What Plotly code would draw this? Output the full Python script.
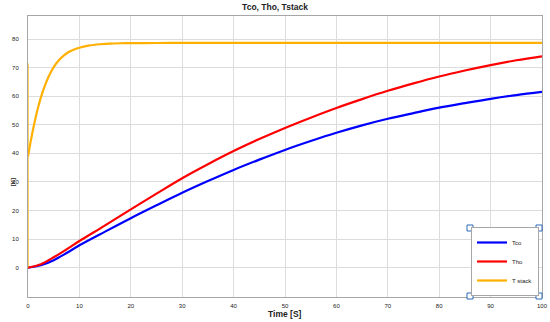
import plotly.graph_objects as go

# ---- data ----
time_tc = [0, 2.5, 5, 7.5, 10, 15, 20, 25, 30, 35, 40, 45, 50, 55, 60, 65, 70, 75, 80, 85, 90, 95, 100]
tco = [0, 0.8, 2.6, 5.1, 7.8, 12.6, 17.3, 21.8, 26.2, 30.3, 34.2, 37.8, 41.2, 44.3, 47.2, 49.8,
       52.1, 54.1, 56.0, 57.6, 59.1, 60.4, 61.5]
tho = [0, 1.2, 3.6, 6.4, 9.3, 14.8, 20.4, 25.9, 31.3, 36.2, 40.8, 45.0, 48.9, 52.5, 55.9, 59.0,
       61.9, 64.5, 66.9, 69.0, 70.9, 72.6, 74.0]

time_stack = [0, 0.5, 1, 1.5, 2, 2.5, 3, 4, 5, 6, 7, 8, 9, 10, 12, 14, 16, 18, 20, 25, 30, 100]
tstack = [39, 44, 48.5, 52.7, 56.3, 59.5, 62.3, 66.8, 70.2, 72.6, 74.3, 75.6, 76.4, 77.0, 77.8,
          78.2, 78.45, 78.55, 78.6, 78.65, 78.7, 78.7]
spike_t = [0, 0]
spike_v = [0, 71.5]

x_ticks = list(range(0, 101, 10))
y_ticks = list(range(0, 81, 10))

title_text = "Tco, Tho, Tstack"
x_title = "Time [S]"
y_title = "[K]"

BLUE = "#0000ff"
RED = "#ff0000"
YEL = "#ffb000"

fig = go.Figure()
fig.add_trace(go.Scatter(x=time_tc, y=tco, mode="lines", name="Tco",
                         line=dict(color=BLUE, width=2.2, shape="spline")))
fig.add_trace(go.Scatter(x=time_tc, y=tho, mode="lines", name="Tho",
                         line=dict(color=RED, width=2.2, shape="spline")))
fig.add_trace(go.Scatter(x=time_stack, y=tstack, mode="lines", name="T stack",
                         line=dict(color=YEL, width=2.2, shape="spline", smoothing=0.6)))
fig.add_trace(go.Scatter(x=spike_t, y=spike_v, mode="lines", showlegend=False,
                         line=dict(color=YEL, width=1.2)))

axis_common = dict(showgrid=True, gridcolor="#dcdcdc", gridwidth=1, zeroline=False,
                   showline=True, linecolor="#a6a6a6", linewidth=1, mirror=True,
                   ticks="", tickfont=dict(size=6, color="#222", family="Liberation Sans"))

fig.update_layout(
    width=550, height=322,
    margin=dict(l=28, r=8, t=16, b=25, autoexpand=False),
    paper_bgcolor="white", plot_bgcolor="white",
    font=dict(family="Liberation Sans", color="#222"),
    title=dict(text="<b>" + title_text + "</b>", x=0.5, xanchor="center",
               y=1 - 7.5 / 322, yanchor="middle", font=dict(size=8.5, color="#222")),
    xaxis=dict(range=[0, 100], tickvals=x_ticks, ticklabelstandoff=3, **axis_common),
    yaxis=dict(range=[-10.3, 88.1], tickvals=y_ticks, ticklabelstandoff=7, **axis_common),
    legend=dict(x=1 - 3 / 514, y=1 / 281, xref="paper", yref="paper",
                xanchor="right", yanchor="bottom",
                bgcolor="white", bordercolor="#a6a6a6", borderwidth=1,
                font=dict(size=6, color="#222"), tracegroupgap=0, itemwidth=30),
    showlegend=True,
)

fig.add_annotation(text="<b>" + x_title + "</b>", xref="paper", yref="paper",
                   x=0.5, y=(297 - 313.5) / 281, yanchor="middle", showarrow=False,
                   font=dict(size=8.5, color="#222"))
fig.add_annotation(text="<b>" + y_title + "</b>", xref="paper", yref="y", x=-0.04, y=30,
                   textangle=-90, showarrow=False, font=dict(size=6, color="#222"))

# selection handles around the legend (as in the reference)
for px, py in [(470, 228), (539, 228), (470, 296), (539, 296)]:
    xp = (px - 28) / 514
    yp = (297 - py) / 281
    fig.add_shape(type="rect", xref="paper", yref="paper", xsizemode="pixel", ysizemode="pixel",
                  xanchor=xp, yanchor=yp, x0=-3, x1=3, y0=-3, y1=3,
                  line=dict(color="#2a6ab8", width=1), fillcolor="white", layer="above")

fig.write_html("out.html", config={"displayModeBar": False},
               post_script="document.body.style.margin='0';document.body.style.overflow='hidden';")
